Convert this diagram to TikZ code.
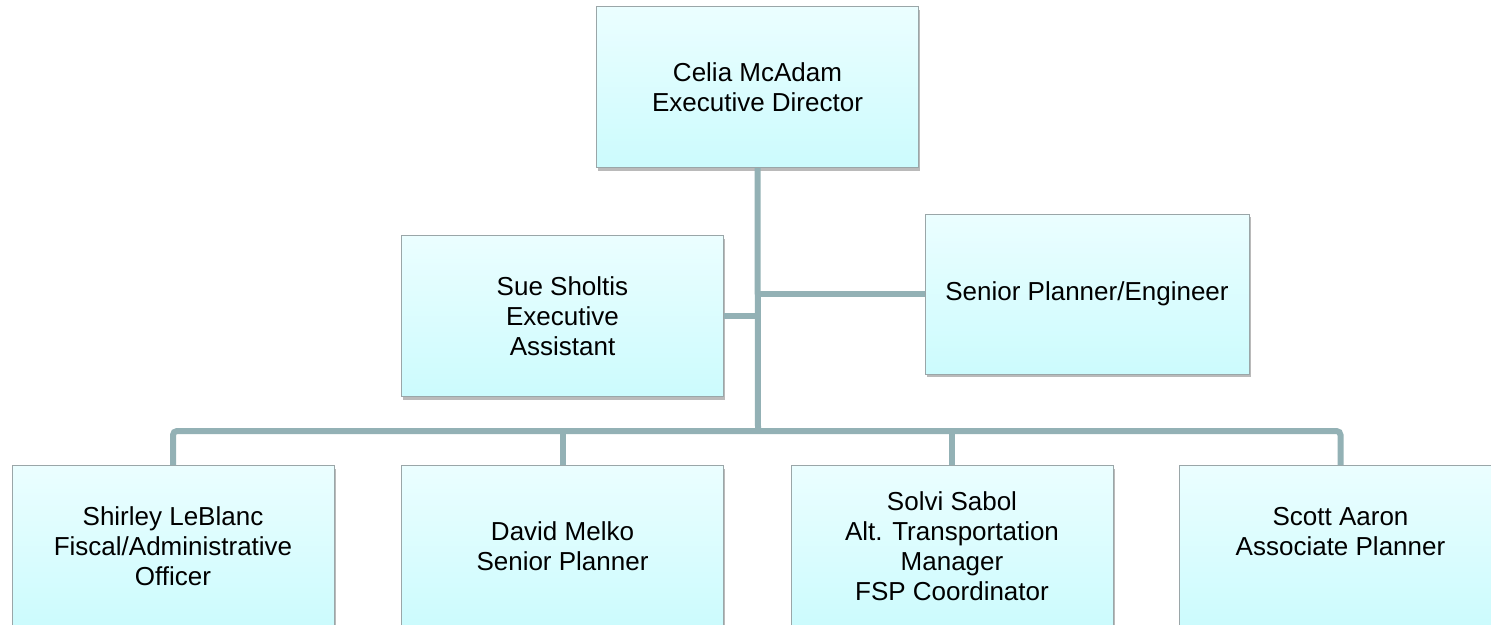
\documentclass[tikz,border=0pt]{standalone}
\usepackage{fontspec}
\setmainfont{Liberation Sans}
\usetikzlibrary{shadows}
\definecolor{linec}{HTML}{93B1B5}
\definecolor{boxtop}{HTML}{EBFEFF}
\definecolor{boxbot}{HTML}{CCFBFD}
\definecolor{boxedge}{HTML}{9AA6A8}
\tikzset{
  orgbox/.style={draw=boxedge, line width=1pt, top color=boxtop, bottom color=boxbot,
    minimum width=322pt, minimum height=161pt, inner sep=0pt, align=center,
    font=\fontsize{26}{30}\selectfont,
    drop shadow={shadow xshift=1.5pt, shadow yshift=-3pt, opacity=0.45, fill=black!60}},
  conn/.style={draw=linec, line width=6pt}
}
\begin{document}
\begin{tikzpicture}[x=1pt,y=-1pt]
\useasboundingbox (0,0) rectangle (1491,624);
\fill[white] (0,0) rectangle (1491,624);
\coordinate (j) at (758,431);
\node[orgbox] (top) at (757.5,87) {Celia McAdam\\Executive Director};
\node[orgbox] (sue) at (562.5,316) {Sue Sholtis\\Executive\\Assistant};
\node[orgbox, minimum width=324pt, minimum height=160pt] (sen) at (1087,294) {Senior Planner/Engineer};
\node[orgbox] (b1) at (173,546) {Shirley LeBlanc\\Fiscal/Administrative\\Officer};
\node[orgbox] (b2) at (562.5,546) {David Melko\\Senior Planner};
\node[orgbox] (b3) at (952,546) {Solvi Sabol\\Alt. Transportation\\Manager\\FSP Coordinator};
\node[orgbox] (b4) at (1340.5,546) {Scott Aaron\\Associate Planner\\\mbox{}};
\draw[conn] (top.south) -- (j);
\draw[conn] (sue.east) -- (sue.east -| j);
\draw[conn] (sen.west) -- (sen.west -| j);
\draw[conn, rounded corners=4pt] (b1.north) -- (b1.north |- j) -- (b4.north |- j) -- (b4.north);
\draw[conn] (b2.north) -- (b2.north |- j);
\draw[conn] (b3.north) -- (b3.north |- j);
\end{tikzpicture}
\end{document}
